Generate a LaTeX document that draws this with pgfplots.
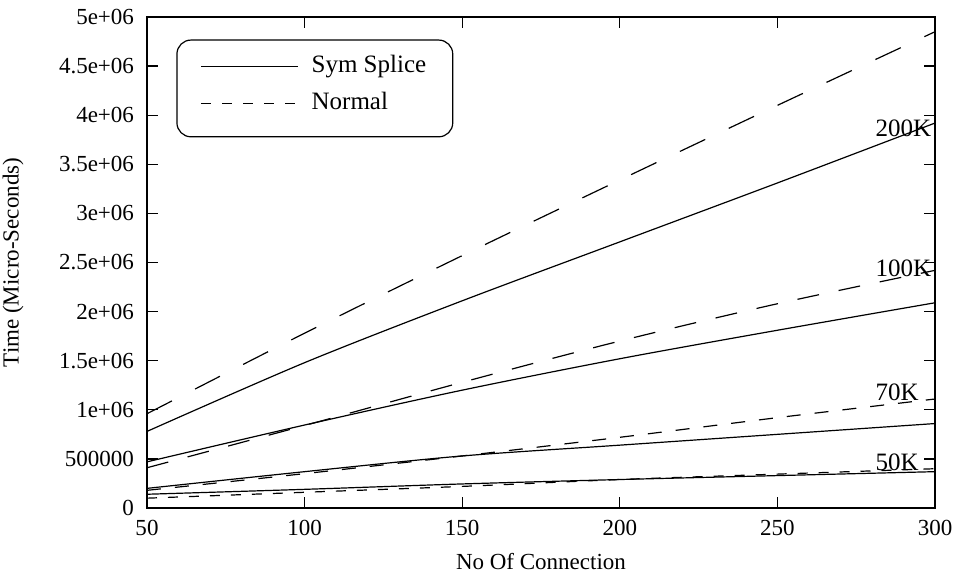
\documentclass[border=0pt]{standalone}
\usepackage{fontspec}
\setmainfont{Liberation Serif}
\usepackage{pgfplots}
\usepackage{pgfplotstable}
\pgfplotsset{compat=1.18}

% columns: s = Sym Splice, n = Normal, for 50K/70K/100K/200K
\pgfplotstableread{
x   s50    n50    s70    n70     s100    n100    s200    n200
50  140000 100000 200000 180000  470000  410000  780000  960000
100 190000 160000 370000 350000  845000  840000  1480000 1780000
150 245000 220000 530000 530000  1200000 1280000 2110000 2570000
200 290000 290000 640000 720000  1520000 1700000 2710000 3340000
250 330000 345000 750000 920000  1810000 2080000 3310000 4100000
300 370000 400000 860000 1110000 2090000 2420000 3920000 4850000
}\timing

\begin{document}
\begin{tikzpicture}
\begin{axis}[
    scale only axis,
    width=394pt, height=245.5pt,
    xmin=50, xmax=300, ymin=0, ymax=5000000,
    xtick={50,100,150,200,250,300},
    ytick={0,500000,1000000,1500000,2000000,2500000,3000000,3500000,4000000,4500000,5000000},
    yticklabels={0,500000,1e+06,1.5e+06,2e+06,2.5e+06,3e+06,3.5e+06,4e+06,4.5e+06,5e+06},
    scaled y ticks=false,
    /pgf/number format/assume math mode=true,
    tick align=inside,
    major tick length=5.5pt,
    axis line style={line width=0.6pt},
    tick style={line width=0.6pt, black},
    tick label style={font=\fontsize{11.5}{13}\selectfont},
    xticklabel style={yshift=-2.5pt},
    yticklabel style={xshift=-3pt},
    label style={font=\fontsize{11.5}{13}\selectfont},
    xlabel={No Of Connection},
    ylabel={Time (Micro-Seconds)},
    xlabel style={at={(axis description cs:0.5,-0.11)}, anchor=center},
    ylabel style={at={(axis description cs:-0.17,0.5)}, anchor=center},
    every axis plot/.append style={line width=0.6pt, black, smooth},
    legend style={draw=none, fill=none, at={(0.0673,0.925)}, anchor=north west,
        inner sep=0pt, row sep=6.5pt, font=\fontsize{12.5}{14}\selectfont,
        nodes={inner sep=0pt, text height=9pt, text depth=3pt},
        /tikz/every odd column/.style={column sep=6.5pt}},
    legend image code/.code={\draw[#1] (0pt,0pt) -- (48.5pt,0pt);},
    legend cell align=left,
  ]
  \addplot[solid] table[x=x, y=s50] {\timing};
  \addlegendentry{Sym Splice}
  \addplot[dash pattern=on 5pt off 5.5pt] table[x=x, y=n50] {\timing};
  \addlegendentry{Normal}
  \addplot[solid, forget plot] table[x=x, y=s70] {\timing};
  \addplot[dash pattern=on 7pt off 7pt, forget plot] table[x=x, y=n70] {\timing};
  \addplot[solid, forget plot] table[x=x, y=s100] {\timing};
  \addplot[dash pattern=on 11pt off 10pt, forget plot] table[x=x, y=n100] {\timing};
  \addplot[solid, forget plot] table[x=x, y=s200] {\timing};
  \addplot[dash pattern=on 14pt off 13pt, forget plot] table[x=x, y=n200] {\timing};

  \draw[rounded corners=7pt, line width=0.6pt]
    (axis description cs:0.038,0.953) rectangle (axis description cs:0.388,0.756);

  \node[anchor=west, inner sep=0pt, font=\fontsize{12.5}{14}\selectfont] at (axis cs:281,3870000) {200K};
  \node[anchor=west, inner sep=0pt, font=\fontsize{12.5}{14}\selectfont] at (axis cs:281,2440000) {100K};
  \node[anchor=west, inner sep=0pt, font=\fontsize{12.5}{14}\selectfont] at (axis cs:281,1180000) {70K};
  \node[anchor=west, inner sep=0pt, font=\fontsize{12.5}{14}\selectfont] at (axis cs:281,470000) {50K};
\end{axis}
\pgfresetboundingbox
\path[use as bounding box] ([xshift=-73.5pt,yshift=-34.5pt]current axis.south west)
  rectangle ([xshift=10pt,yshift=8.5pt]current axis.north east);
\end{tikzpicture}
\end{document}
